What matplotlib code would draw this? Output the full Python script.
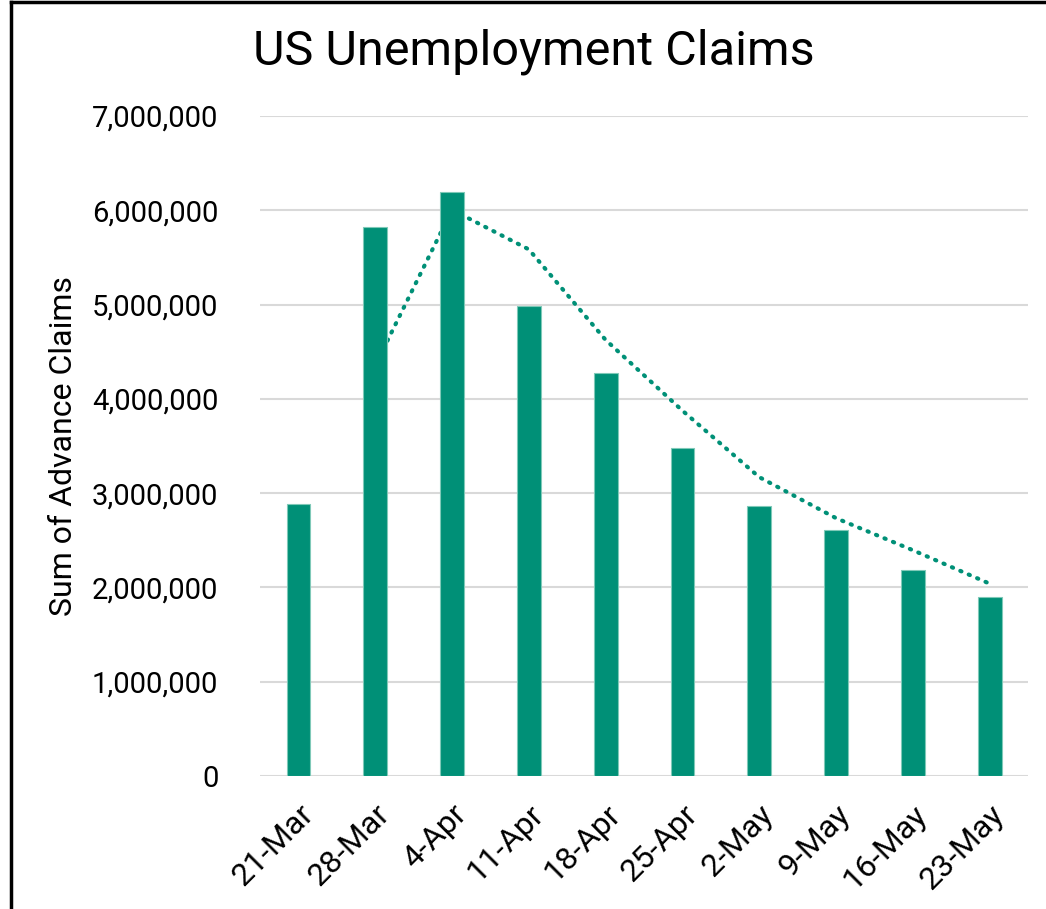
import matplotlib.pyplot as plt
from matplotlib.ticker import FuncFormatter
from matplotlib.lines import Line2D

# weekly advance claims
weeks = ['21-Mar', '28-Mar', '4-Apr', '11-Apr', '18-Apr', '25-Apr',
         '2-May', '9-May', '16-May', '23-May']
claims = [2890000, 5820000, 6190000, 4980000, 4270000, 3480000,
          2860000, 2610000, 2180000, 1900000]
# 2-period moving average trendline (starts at 2nd week)
trend = [4355000, 6005000, 5585000, 4625000, 3875000, 3170000,
         2735000, 2395000, 2040000]

teal = '#009077'
plt.rcParams['font.family'] = ['Roboto', 'DejaVu Sans']

fig = plt.figure(figsize=(10.46, 9.09), dpi=100)
ax = fig.add_axes([0.2486, 0.1463, 0.7342, 0.7261])

x = list(range(len(weeks)))
ax.bar(x, claims, width=0.31, color=teal, edgecolor='#7fc9b8', linewidth=0.8, zorder=3)
ax.plot(x[1:], trend, linestyle=(0, (0.3, 1.9)), dash_capstyle='round',
        color=teal, linewidth=3.0, zorder=2)

ax.set_xlim(-0.5, len(weeks) - 0.5)
ax.set_ylim(0, 7000000)
ax.set_yticks(range(0, 7000001, 1000000))
ax.yaxis.set_major_formatter(FuncFormatter(lambda v, p: f'{int(v):,}'))
ax.set_xticks(x)
ax.set_xticklabels(weeks, rotation=45, ha='right', rotation_mode='anchor')
ax.tick_params(axis='y', length=0, labelsize=21, pad=30)
ax.tick_params(axis='x', length=0, labelsize=23, pad=17)
ax.grid(axis='y', color='#d9d9d9', linewidth=1.5, zorder=0)
ax.set_axisbelow(True)
for s in ax.spines.values():
    s.set_visible(False)

ax.set_ylabel('Sum of Advance Claims', fontsize=23, labelpad=10)
fig.text(0.51, 0.943, 'US Unemployment Claims', ha='center', va='center', fontsize=35)

# chart border (left and top edges visible)
fig.add_artist(Line2D([0.0105, 0.0105], [0, 0.998], color='black', linewidth=2.5))
fig.add_artist(Line2D([0.0105, 1.0], [0.998, 0.998], color='black', linewidth=2.5))

fig.savefig('out.png', dpi=100)
